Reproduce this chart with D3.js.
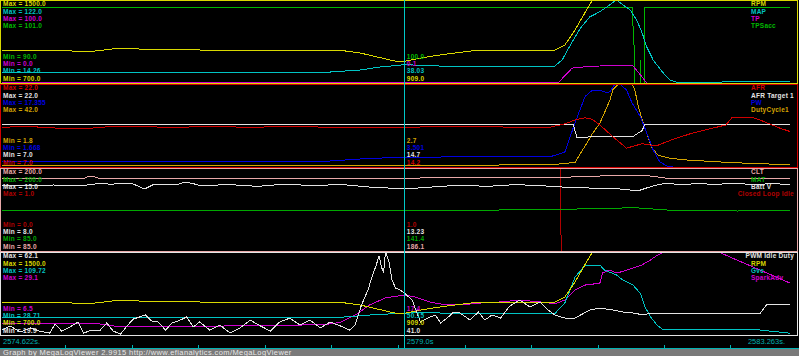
<!DOCTYPE html>
<html><head><meta charset="utf-8">
<script src="https://cdn.jsdelivr.net/npm/d3@7"></script>
<style>html,body{margin:0;padding:0;background:#000;overflow:hidden}svg{display:block}</style>
</head><body><svg id="c" width="799" height="356"></svg>
<script>
// ---------- time ----------
const T0 = 2574.622, T1 = 2583.263, CURSOR = 2579.0;
const tickTimes = [2575.31, 2576.03, 2576.75, 2577.48, 2578.20, 2578.93, 2579.65, 2580.37, 2581.10, 2581.82, 2582.54];
const timeLabels = ["2574.622s.", "2579.0s", "2583.263s."];
const footer = "Graph by MegaLogViewer 2.9915 http://www.efianalytics.com/MegaLogViewer";

// ---------- series data [time s, value] ----------
const rpm = [[2574.62,1018],[2575.25,1018],[2575.39,1008],[2575.63,1008],[2575.78,1023],[2575.86,1033],[2576.07,1033],[2576.15,1023],[2576.77,1018],[2577.43,1018],[2578.30,1015],[2578.51,990],[2578.73,945],[2578.89,912],[2579.00,909],[2579.17,940],[2579.38,970],[2579.71,1008],[2580.04,1018],[2580.63,1018],[2580.74,1066],[2580.85,1210],[2580.96,1380],[2581.04,1500],[2581.12,1650],[2583.19,1700]];
const map = [[2574.62,28.5],[2576.45,28.5],[2576.77,28.2],[2578.19,28.5],[2578.51,31.1],[2578.73,35.0],[2579.00,38.03],[2579.38,36.3],[2579.71,35.7],[2580.04,36.3],[2580.63,36.3],[2580.71,44.1],[2580.80,63.6],[2580.91,85.6],[2581.01,100],[2581.12,106.8],[2581.21,114.2],[2581.30,122],[2581.45,109.0],[2581.52,96.0],[2581.58,79.2],[2581.63,61.0],[2581.70,44.1],[2581.80,28.5],[2581.88,18.2],[2581.97,14.6],[2582.43,14.26],[2582.45,15.9],[2583.19,15.9]];
const tp = [[2574.62,0.1],[2580.67,0.1],[2580.74,9],[2580.82,18],[2580.96,19.5],[2581.12,20.5],[2581.34,20.5],[2581.38,21.5],[2581.48,20.5],[2581.56,10],[2581.63,0],[2583.19,0]];
const tpsacc = [[2574.62,100],[2581.47,100],[2581.50,93],[2581.53,0],[2581.56,93],[2581.59,0],[2581.61,100],[2583.19,100]];

const afr = [[2574.62,14.2],[2574.93,14.3],[2575.25,14.0],[2575.58,14.0],[2575.80,14.3],[2576.23,14.3],[2576.45,14.1],[2576.77,14.3],[2577.32,14.2],[2577.86,14.3],[2578.40,14.1],[2579.00,14.2],[2579.60,14.3],[2580.25,14.2],[2580.58,14.2],[2580.74,14.8],[2580.85,15.5],[2580.96,15.9],[2581.04,15.6],[2581.12,14.6],[2581.26,12.5],[2581.41,10.4],[2581.47,10.7],[2581.58,11.2],[2581.73,10.8],[2581.90,11.9],[2582.12,13.1],[2582.27,13.7],[2582.49,14.6],[2582.56,16.0],[2582.77,16.0],[2582.86,15.5],[2583.08,14.0],[2583.19,13.4]];
const afrTarget = [[2574.62,14.7],[2580.83,14.7],[2580.87,12.4],[2581.48,12.5],[2581.58,13.6],[2581.61,14.7],[2583.19,14.7]];
const pw = [[2574.62,2.67],[2576.56,2.67],[2576.77,2.8],[2578.19,2.8],[2578.62,3.3],[2579.00,3.501],[2579.71,3.6],[2580.58,3.6],[2580.74,4.5],[2580.85,10],[2580.96,15],[2581.04,16.2],[2581.12,16.2],[2581.20,15.7],[2581.23,15.9],[2581.28,17.2],[2581.34,17.355],[2581.41,16.2],[2581.47,13.8],[2581.56,11.2],[2581.63,8.1],[2581.70,4.9],[2581.77,2.67],[2581.85,1.86],[2581.91,1.668],[2583.19,1.668]];
const duty = [[2574.62,2.3],[2578.40,2.3],[2579.00,2.7],[2580.58,2.8],[2580.85,4],[2580.96,12],[2581.04,18],[2581.12,23.0],[2581.17,28.0],[2581.23,34.2],[2581.26,39.1],[2581.32,42],[2581.47,42],[2581.50,39.1],[2581.54,31.0],[2581.58,24.6],[2581.63,18.3],[2581.68,11.6],[2581.75,7.6],[2581.88,6.0],[2582.06,5.2],[2582.56,3.9],[2582.93,3.3],[2583.19,2.8]];

const clt = [[2574.62,185.7],[2575.52,185.7],[2575.56,188.2],[2575.62,188.2],[2575.67,185.7],[2579.00,186.1],[2580.58,186.5],[2581.12,188.9],[2581.30,190.3],[2581.67,188.9],[2581.85,185.7],[2582.21,184.8],[2583.19,184.8]];
const mat = [[2574.62,141.8],[2579.00,141.4],[2580.58,142],[2581.12,144.2],[2581.52,144.8],[2581.58,144.2],[2581.85,141.8],[2582.62,140.4],[2582.75,141.8],[2583.19,141.4]];
const battV = [[2574.62,13.55],[2575.08,13.51],[2575.18,13.57],[2575.33,13.51],[2575.56,13.57],[2575.69,13.71],[2575.80,13.63],[2575.94,13.71],[2576.05,13.65],[2576.17,13.23],[2576.26,13.57],[2576.41,13.63],[2576.52,13.57],[2576.60,13.79],[2576.69,13.71],[2576.77,13.51],[2577.10,13.6],[2577.40,13.45],[2577.70,13.65],[2578.00,13.5],[2578.30,13.62],[2578.60,13.4],[2578.85,13.3],[2579.00,13.23],[2579.30,13.4],[2579.60,13.55],[2579.90,13.45],[2580.20,13.6],[2580.50,13.5],[2580.80,13.35],[2581.12,13.29],[2581.23,13.23],[2581.34,13.23],[2581.45,13.14],[2581.56,13.14],[2581.67,13.42],[2581.77,13.63],[2581.88,13.71],[2581.99,13.57],[2582.21,13.71],[2582.39,13.57],[2582.49,13.71],[2582.66,13.68],[2582.81,13.57],[2582.99,13.71],[2583.19,13.57]];
const cli = [[2574.62,1],[2580.69,1],[2580.70,0],[2583.19,0]];

const pwm = [[2574.62,22.4],[2574.71,24.5],[2574.82,21.4],[2574.93,23.5],[2575.03,21.9],[2575.14,20.9],[2575.20,25.5],[2575.27,21.9],[2575.36,24.0],[2575.45,26.5],[2575.51,20.9],[2575.60,22.4],[2575.69,22.4],[2575.76,26.0],[2575.83,21.9],[2575.91,20.4],[2575.99,25.0],[2576.05,28.0],[2576.12,29.1],[2576.18,30.1],[2576.25,27.0],[2576.32,26.5],[2576.40,22.4],[2576.47,26.0],[2576.56,27.5],[2576.63,29.1],[2576.70,24.0],[2576.77,26.5],[2576.88,22.4],[2576.99,25.0],[2577.10,20.9],[2577.21,23.5],[2577.32,27.5],[2577.43,24.5],[2577.54,21.9],[2577.64,26.5],[2577.75,28.5],[2577.86,25.0],[2577.97,27.5],[2578.08,23.5],[2578.19,26.5],[2578.30,24.5],[2578.40,22.4],[2578.46,25.0],[2578.53,35.2],[2578.60,42.8],[2578.64,48.9],[2578.69,55.5],[2578.72,60.1],[2578.75,54.0],[2578.77,51.9],[2578.79,62.1],[2578.83,57.0],[2578.86,47.9],[2578.90,43.8],[2578.95,42.8],[2579.00,41.0],[2579.08,37.7],[2579.17,26.5],[2579.25,28.5],[2579.33,30.1],[2579.39,26.0],[2579.46,28.5],[2579.52,31.1],[2579.58,31.6],[2579.63,30.1],[2579.71,27.5],[2579.80,31.6],[2579.87,27.5],[2579.95,30.1],[2580.04,28.5],[2580.14,34.6],[2580.25,37.7],[2580.36,34.1],[2580.47,36.7],[2580.56,32.6],[2580.63,30.1],[2580.74,28.5],[2580.85,28.5],[2581.01,32.6],[2581.12,33.6],[2581.26,32.6],[2581.37,31.6],[2581.48,31.1],[2581.56,30.4],[2581.74,30.8],[2582.86,30.8],[2582.93,35.2],[2583.19,35.2]];
const gve = [[2574.62,46.0],[2578.30,46.0],[2578.62,48.2],[2579.00,50.15],[2579.27,50.5],[2579.71,49.2],[2580.63,49.5],[2580.74,60],[2580.85,85],[2580.96,97],[2581.12,97.0],[2581.17,92.2],[2581.30,87.3],[2581.37,82.4],[2581.48,77.5],[2581.56,69.4],[2581.61,56.3],[2581.67,46.6],[2581.74,38.5],[2581.81,33.6],[2582.86,33.6],[2583.19,30.4]];
const spark = [[2574.62,9.5],[2575.69,9.5],[2575.85,8.9],[2576.01,8.7],[2576.77,8.9],[2577.32,9.0],[2577.86,9.2],[2578.19,9.5],[2578.30,10.0],[2578.46,11.9],[2578.62,14.7],[2578.79,16.6],[2579.00,17.4],[2579.12,16.8],[2579.27,15.5],[2579.44,14.7],[2579.60,14.7],[2579.82,15.2],[2580.04,15.5],[2580.25,16.0],[2580.47,15.5],[2580.63,15.0],[2580.74,16.0],[2580.85,18.8],[2580.96,20.1],[2581.12,20.6],[2581.15,23.4],[2581.23,24.2],[2581.30,23.4],[2581.37,23.8],[2581.48,24.7],[2581.58,25.6],[2581.67,26.9],[2581.72,27.8],[2581.81,29.1],[2582.41,29.1],[2583.19,20.6]];

// ---------- panel definitions ----------
const panels = [
  [ {name:"RPM", color:"#d8d800", min:700, max:1500, minL:"700.0", maxL:"1500.0", cur:"909.0", data:rpm},
    {name:"MAP", color:"#00c4c4", min:14.26, max:122, minL:"14.26", maxL:"122.0", cur:"38.03", data:map},
    {name:"TP", color:"#d000d0", min:0, max:100, minL:"0.0", maxL:"100.0", cur:"0.1", data:tp},
    {name:"TPSacc", color:"#00b800", min:90, max:101, minL:"90.0", maxL:"101.0", cur:"100.0", data:tpsacc} ],
  [ {name:"AFR", color:"#d00000", min:7, max:22, minL:"7.0", maxL:"22.0", cur:"14.2", data:afr},
    {name:"AFR Target 1", color:"#e4e4e4", min:7, max:22, minL:"7.0", maxL:"22.0", cur:"14.7", data:afrTarget},
    {name:"PW", color:"#0000e0", min:1.668, max:17.355, minL:"1.668", maxL:"17.355", cur:"3.501", data:pw},
    {name:"DutyCycle1", color:"#d4a400", min:1.8, max:42, minL:"1.8", maxL:"42.0", cur:"2.7", data:duty} ],
  [ {name:"CLT", color:"#e8a8a8", min:85, max:200, minL:"85.0", maxL:"200.0", cur:"186.1", data:clt},
    {name:"MAT", color:"#00a800", min:85, max:200, minL:"85.0", maxL:"200.0", cur:"141.4", data:mat},
    {name:"Batt V", color:"#e4e4e4", min:8, max:15, minL:"8.0", maxL:"15.0", cur:"13.23", data:battV},
    {name:"Closed Loop Idle", color:"#b00000", min:0, max:1, minL:"0.0", maxL:"1.0", cur:"1.0", data:cli} ],
  [ {name:"PWM Idle Duty", color:"#e4e4e4", min:19.9, max:62.1, minL:"19.9", maxL:"62.1", cur:"41.0", data:pwm},
    {name:"RPM", color:"#d8d800", min:700, max:1500, minL:"700.0", maxL:"1500.0", cur:"909.0", data:rpm},
    {name:"Gve", color:"#00c4c4", min:28.71, max:109.72, minL:"28.71", maxL:"109.72", cur:"50.15", data:gve},
    {name:"SparkAdv", color:"#d000d0", min:6.5, max:29.1, minL:"6.5", maxL:"29.1", cur:"17.4", data:spark} ]
];

// ---------- drawing ----------
const W = 799, H = 356, PH = 84;
const svg = d3.select("#c");
svg.append("rect").attr("width", W).attr("height", H).attr("fill", "#000");
const x = d3.scaleLinear().domain([T0, T1]).range([2, 797]);
const FONT = "'Liberation Sans', Arial, sans-serif";
const FS = "6.5px", LS = "0.25px", STEP = 7.35;
const defs = svg.append("defs");

panels.forEach((series, i) => {
  const top = i * PH;
  defs.append("clipPath").attr("id", "clip" + i)
    .append("rect").attr("x", 0).attr("y", top).attr("width", 798).attr("height", PH);
  const g = svg.append("g");
  const lg = g.append("g").attr("clip-path", `url(#clip${i})`);
  series.slice().reverse().forEach(s => {
    const y = d3.scaleLinear().domain([s.min, s.max]).range([top + 83, top]);
    const line = d3.line().x(d => x(d[0])).y(d => y(d[1]));
    lg.append("path").datum(s.data).attr("d", line)
      .attr("fill", "none").attr("stroke", s.color).attr("stroke-width", 1)
      .attr("shape-rendering", "crispEdges");
  });
  g.append("rect").attr("x", 0.5).attr("y", top + 0.5).attr("width", 797).attr("height", 83)
    .attr("fill", "none").attr("stroke", series[0].color).attr("shape-rendering", "crispEdges");

  const txt = (tx, ty, str, col) => g.append("text").attr("x", tx).attr("y", ty)
    .attr("fill", col).attr("font-family", FONT).attr("font-size", FS).attr("font-weight", "bold")
    .attr("letter-spacing", LS).text(str);

  series.forEach((s, k) => {
    txt(3, top + 6.2 + k * STEP, "Max = " + s.maxL, s.color);
    const lt = txt(751, top + 6.2 + k * STEP, s.name, s.color);
    const w = lt.node().getComputedTextLength();
    if (751 + w > 794) lt.attr("x", 794 - w);
  });
  series.slice().reverse().forEach((s, k) => {
    txt(3, top + 58.7 + k * STEP, "Min = " + s.minL, s.color);
    txt(x(CURSOR) + 2, top + 58.7 + k * STEP, s.cur, s.color);
  });
});

// time strip
const axisG = svg.append("g").attr("transform", "translate(0,345)");
axisG.call(d3.axisBottom(x).tickValues(tickTimes).tickSize(3).tickFormat(""));
axisG.select(".domain").remove();
axisG.selectAll("line").attr("stroke", "#00b4b4").attr("shape-rendering", "crispEdges");

const tl = (tx, str, anchor) => svg.append("text").attr("x", tx).attr("y", 343.5)
  .attr("fill", "#00b0b0").attr("font-family", FONT).attr("font-size", "7.5px")
  .attr("text-anchor", anchor).text(str);
tl(x(T0) + 1, timeLabels[0], "start");
tl(x(CURSOR) + 2, timeLabels[1], "start");
tl(x(T1) - 12, timeLabels[2], "end");

// cursor
svg.append("line").attr("x1", x(CURSOR)).attr("x2", x(CURSOR)).attr("y1", 0).attr("y2", 348)
  .attr("stroke", "#00c8c8").attr("shape-rendering", "crispEdges");

// footer
svg.append("line").attr("x1", 0).attr("x2", W).attr("y1", 348.5).attr("y2", 348.5)
  .attr("stroke", "#00b4b4").attr("shape-rendering", "crispEdges");
svg.append("rect").attr("x", 0).attr("y", 349).attr("width", W).attr("height", 7).attr("fill", "#7a7a7a");
svg.append("text").attr("x", 3).attr("y", 355).attr("fill", "#e8e8e8")
  .attr("font-family", FONT).attr("font-size", "7.5px").attr("letter-spacing", "0.4px").text(footer);
</script></body></html>
